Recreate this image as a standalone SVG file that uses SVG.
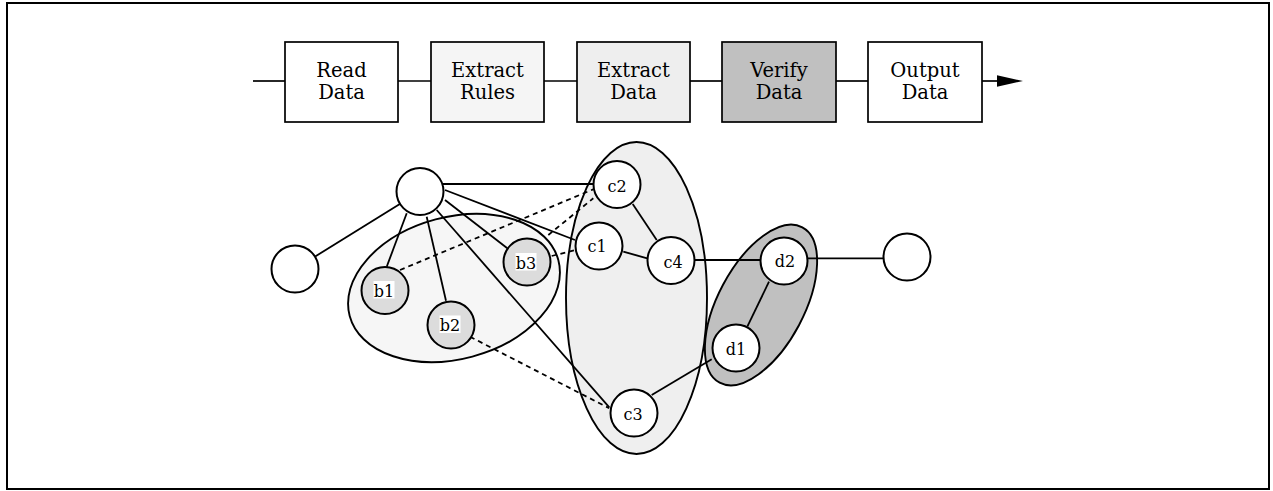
<svg xmlns="http://www.w3.org/2000/svg" width="1273" height="491" viewBox="0 0 1273 491">
<style>
.box{stroke:#000;stroke-width:1.7}
.bt{font-family:"DejaVu Serif",serif;font-size:19.5px;text-anchor:middle;fill:#000}
.n{fill:#fff;stroke:#000;stroke-width:2}
.nb{fill:#dcdcdc;stroke:#000;stroke-width:2}
.nt{font-family:"DejaVu Serif",serif;font-size:16px;text-anchor:middle;fill:#000}
.e{fill:none;stroke:#000;stroke-width:1.8}
.d{fill:none;stroke:#000;stroke-width:1.8;stroke-dasharray:5 4}
.grp{stroke:#000;stroke-width:1.9}
.pl{stroke:#000;stroke-width:1.7}
</style>
<rect x="0" y="0" width="1273" height="491" fill="#fff"/>
<rect x="7" y="3" width="1262" height="486" fill="none" stroke="#000" stroke-width="2"/>

<g id="pipeline">
<line class="pl" x1="253" y1="81" x2="285" y2="81"/>
<line class="pl" x1="398" y1="81" x2="431" y2="81"/>
<line class="pl" x1="544" y1="81" x2="577" y2="81"/>
<line class="pl" x1="690" y1="81" x2="722" y2="81"/>
<line class="pl" x1="836" y1="81" x2="868" y2="81"/>
<line class="pl" x1="982" y1="81" x2="1000" y2="81"/>
<polygon points="997,75.2 1023,81 997,86.8" fill="#000"/>
</g>
<g id="box-read"><rect class="box" x="285" y="42" width="113" height="80" fill="#fff"/><text class="bt" x="341.5" y="77">Read</text><text class="bt" x="341.5" y="99">Data</text></g>
<g id="box-rules"><rect class="box" x="431" y="42" width="113" height="80" fill="#f5f5f5"/><text class="bt" x="487.5" y="77">Extract</text><text class="bt" x="487.5" y="99">Rules</text></g>
<g id="box-extract"><rect class="box" x="577" y="42" width="113" height="80" fill="#eeeeee"/><text class="bt" x="633.5" y="77">Extract</text><text class="bt" x="633.5" y="99">Data</text></g>
<g id="box-verify"><rect class="box" x="722" y="42" width="114" height="80" fill="#c0c0c0"/><text class="bt" x="779" y="77">Verify</text><text class="bt" x="779" y="99">Data</text></g>
<g id="box-output"><rect class="box" x="868" y="42" width="114" height="80" fill="#fff"/><text class="bt" x="925" y="77">Output</text><text class="bt" x="925" y="99">Data</text></g>

<g id="group-b"><ellipse class="grp" cx="454" cy="288" rx="108" ry="71" transform="rotate(-15 454 288)" fill="#f6f6f6"/></g>
<g id="group-c"><ellipse class="grp" cx="636.5" cy="298" rx="70.5" ry="156" fill="#efefef"/></g>
<g id="group-d"><ellipse class="grp" cx="761" cy="305" rx="88" ry="43" transform="rotate(-62 761 305)" fill="#c0c0c0"/></g>

<g id="connectors">
<line class="e" x1="420" y1="191.5" x2="295" y2="269"/>
<line class="e" x1="441" y1="184" x2="593" y2="184"/>
<line class="e" x1="406.7" y1="213.3" x2="386.7" y2="266.7"/>
<line class="e" x1="426.7" y1="216.7" x2="446" y2="300.7"/>
<line class="e" x1="445" y1="200" x2="507.3" y2="248.3"/>
<line class="e" x1="445" y1="190" x2="575" y2="240"/>
<line class="e" x1="436.7" y1="210" x2="609.3" y2="407.3"/>
<line class="e" x1="632.7" y1="204" x2="656.7" y2="240"/>
<line class="e" x1="623.3" y1="251.7" x2="647.3" y2="258.3"/>
<line class="e" x1="695" y1="260" x2="760" y2="260"/>
<line class="e" x1="805" y1="258.3" x2="883" y2="258.3"/>
<line class="e" x1="769" y1="281.7" x2="747.3" y2="326.7"/>
<line class="e" x1="711.7" y1="359.3" x2="651.7" y2="395"/>
<line class="d" x1="400" y1="270" x2="593.3" y2="189.3"/>
<line class="d" x1="548.3" y1="235" x2="593.3" y2="198.3"/>
<line class="d" x1="551.7" y1="256" x2="575" y2="250"/>
<line class="d" x1="470" y1="336.7" x2="609.3" y2="408.3"/>
</g>

<g id="node-top"><circle class="n" cx="420" cy="191.5" r="23.5"/></g>
<g id="node-left"><circle class="n" cx="295" cy="269" r="23.5"/></g>
<g id="node-right"><circle class="n" cx="907" cy="257" r="23.5"/></g>
<g id="node-b1"><circle class="nb" cx="385" cy="290.5" r="23.5"/><rect x="373.5" y="281" width="21" height="17.5" fill="#fff"/><text class="nt" x="384" y="296.5">b1</text></g>
<g id="node-b2"><circle class="nb" cx="451" cy="325" r="23.5"/><rect x="439.5" y="315.5" width="21" height="17.5" fill="#fff"/><text class="nt" x="450" y="331">b2</text></g>
<g id="node-b3"><circle class="nb" cx="527" cy="262" r="23.5"/><rect x="515.5" y="253" width="21" height="17.5" fill="#fff"/><text class="nt" x="526" y="268.5">b3</text></g>
<g id="node-c1"><circle class="n" cx="599" cy="246" r="23.5"/><text class="nt" x="597" y="252">c1</text></g>
<g id="node-c2"><circle class="n" cx="617" cy="184.5" r="23.5"/><text class="nt" x="617" y="191.5">c2</text></g>
<g id="node-c3"><circle class="n" cx="634" cy="413" r="23.5"/><text class="nt" x="633" y="420">c3</text></g>
<g id="node-c4"><circle class="n" cx="671" cy="260.5" r="23.5"/><text class="nt" x="673" y="267.5">c4</text></g>
<g id="node-d1"><circle class="n" cx="736" cy="348" r="23.5"/><text class="nt" x="736" y="354.5">d1</text></g>
<g id="node-d2"><circle class="n" cx="784" cy="261" r="23.5"/><text class="nt" x="785" y="267">d2</text></g>
</svg>
